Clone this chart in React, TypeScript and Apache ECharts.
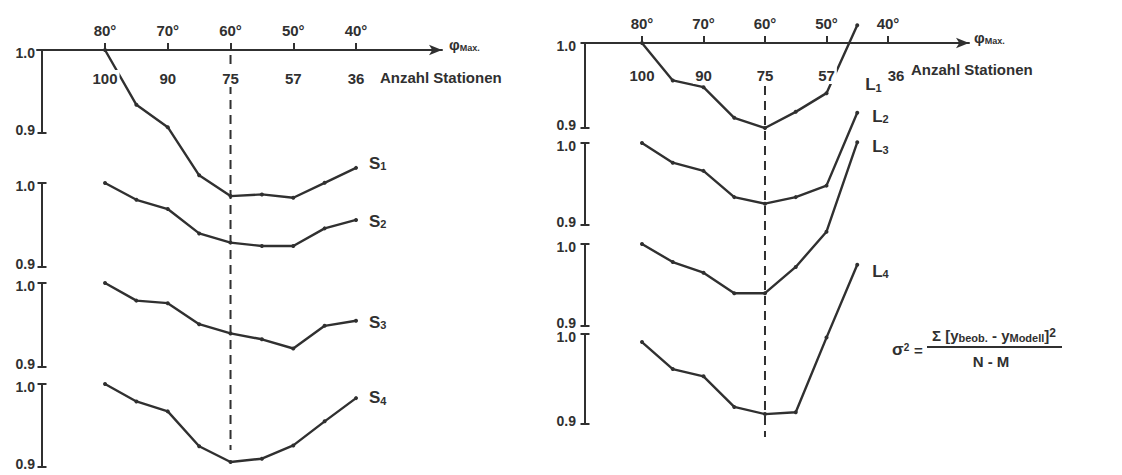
import React, { useEffect, useRef } from "react";
import * as echarts from "echarts";

// ---------- data ----------
const phiTicks = [80, 70, 60, 50, 40];
const stationCounts = ["100", "90", "75", "57", "36"];
const scaleTicks = [0.9, 1.0];
const refPhi = 60;

const sPhi = [80, 75, 70, 65, 60, 55, 50, 45, 40];
const s1 = [1.0, 0.934, 0.907, 0.849, 0.824, 0.826, 0.822, 0.84, 0.858];
const s2 = [1.0, 0.98, 0.969, 0.94, 0.929, 0.925, 0.925, 0.946, 0.956];
const s3 = [1.0, 0.979, 0.976, 0.951, 0.94, 0.933, 0.922, 0.949, 0.955];
const s4 = [1.0, 0.979, 0.967, 0.925, 0.906, 0.91, 0.926, 0.955, 0.983];
const sNames = ["S1", "S2", "S3", "S4"];

const lPhi = [80, 75, 70, 65, 60, 55, 50, 45];
const l1 = [1.0, 0.956, 0.948, 0.912, 0.9, 0.919, 0.941, 1.021];
const l2 = [1.0, 0.976, 0.966, 0.934, 0.926, 0.934, 0.948, 1.037];
const l3 = [1.0, 0.978, 0.965, 0.94, 0.94, 0.972, 1.015, 1.124];
const l4 = [0.991, 0.961, 0.953, 0.919, 0.911, 0.913, 0.996, 1.077];
const lNames = ["L1", "L2", "L3", "L4"];

// ---------- layout / style ----------
const INK = "#303030";
const FONT = "Liberation Sans";

const leftPanel = { left: 37, width: 405, min: 26.3, max: 90.84, yOffset: -5, yLabelMargin: 7, stationMargin: 20, lastStationShift: 0, dashTop: 55, dashHeight: 395 };
const rightPanel = { left: 583, width: 386, min: 26.83, max: 89.59, yOffset: -2, yLabelMargin: 9, stationMargin: 24, lastStationShift: 16, dashTop: 86, dashHeight: 351 };
const leftRows = [
  { top: 50, height: 83 },
  { top: 183, height: 84 },
  { top: 283, height: 84 },
  { top: 384, height: 83 },
];
const rightRows = [
  { top: 43, height: 85 },
  { top: 143, height: 82 },
  { top: 244, height: 82 },
  { top: 334, height: 90 },
];
const leftLabelLayout = [
  { distance: 11, offset: [0, -4] },
  { distance: 11, offset: [0, 2] },
  { distance: 11, offset: [0, 2] },
  { distance: 11, offset: [0, 0] },
];
const rightLabelLayout = [
  { distance: 13, offset: [-7, 60] },
  { distance: 13, offset: [0, 4] },
  { distance: 13, offset: [0, 5] },
  { distance: 13, offset: [0, 7] },
];

const textBase = { color: INK, fontFamily: FONT, fontWeight: "bold" as const, fontSize: 15 };
const subRich = {
  s: { color: INK, fontFamily: FONT, fontWeight: "bold", fontSize: 17, lineHeight: 16, verticalAlign: "bottom" },
  n: { color: INK, fontFamily: FONT, fontWeight: "bold", fontSize: 11, lineHeight: 6, verticalAlign: "bottom" },
};
const yLabelRich = {
  lo: { color: INK, fontFamily: FONT, fontWeight: "bold", fontSize: 14, lineHeight: 13, padding: [0, 0, 6, 0] },
  hi: { color: INK, fontFamily: FONT, fontWeight: "bold", fontSize: 14, lineHeight: 13, padding: [6, 0, 0, 0] },
};

function buildOption() {
  const grids: any[] = [];
  const xAxes: any[] = [];
  const yAxes: any[] = [];
  const series: any[] = [];

  const addPanel = (panel: any, rows: any[], phis: number[], values: number[][], names: string[], labelLayout: any[]) => {
    rows.forEach((row, r) => {
      const gi = grids.length;
      grids.push({ left: panel.left, width: panel.width, top: row.top, height: row.height, containLabel: false, outerBoundsMode: "none" });
      const xi = xAxes.length;
      xAxes.push({
        type: "value",
        gridIndex: gi,
        position: "top",
        inverse: true,
        min: panel.min,
        max: panel.max,
        show: r === 0,
        splitLine: { show: false },
        axisLine: { show: true, onZero: false, symbol: ["none", "arrow"], symbolSize: [8, 13], lineStyle: { color: INK, width: 2 } },
        axisTick: { show: true, customValues: phiTicks, length: 7, lineStyle: { color: INK, width: 2 } },
        axisLabel: { show: true, customValues: phiTicks, formatter: (v: number) => `${v}°`, margin: 12, ...textBase },
      });
      if (r === 0) {
        const shift = panel.lastStationShift;
        xAxes.push({
          type: "value",
          gridIndex: gi,
          position: "top",
          inverse: true,
          min: panel.min,
          max: panel.max,
          z: 5,
          splitLine: { show: false },
          axisLine: { show: false },
          axisTick: { show: false },
          axisLabel: {
            inside: true,
            customValues: phiTicks,
            formatter: (v: number) => {
              const i = phiTicks.indexOf(v);
              return i === phiTicks.length - 1 && shift ? `{r|${stationCounts[i]}}` : stationCounts[i];
            },
            rich: { r: { ...textBase, padding: [0, 0, 0, shift] } },
            margin: panel.stationMargin,
            backgroundColor: "#ffffff",
            padding: [1, 2],
            ...textBase,
          },
        });
      }
      const yi = yAxes.length;
      yAxes.push({
        type: "value",
        gridIndex: gi,
        position: "left",
        min: 0.9,
        max: 1.0,
        offset: panel.yOffset,
        splitLine: { show: false },
        axisLine: { show: true, onZero: false, symbol: ["rect", "rect"], symbolSize: [9, 2], lineStyle: { color: INK, width: 2 } },
        axisTick: { show: false },
        axisLabel: {
          customValues: scaleTicks,
          formatter: (v: number) => (v < 0.95 ? `{lo|${v.toFixed(1)}}` : `{hi|${v.toFixed(1)}}`),
          rich: yLabelRich,
          margin: panel.yLabelMargin,
          ...textBase,
          fontSize: 14,
        },
      });
      const vals = values[r];
      const name = names[r];
      const data: any[] = phis.map((p, i) => [p, vals[i]]);
      const last = data.length - 1;
      data[last] = {
        value: data[last],
        label: {
          show: true,
          position: "right",
          distance: labelLayout[r].distance,
          offset: labelLayout[r].offset,
          formatter: `{s|${name[0]}}{n|${name.slice(1)}}`,
          rich: subRich,
        },
      };
      series.push({
        type: "line",
        name,
        xAxisIndex: xi,
        yAxisIndex: yi,
        data,
        clip: false,
        symbol: "circle",
        symbolSize: 4,
        showSymbol: true,
        itemStyle: { color: INK },
        lineStyle: { color: INK, width: 2.4 },
        label: { show: false },
        z: 3,
      });
    });
    // dashed reference line at 60°
    const gi = grids.length;
    grids.push({ left: panel.left, width: panel.width, top: panel.dashTop, height: panel.dashHeight, containLabel: false, outerBoundsMode: "none" });
    const xi = xAxes.length;
    xAxes.push({ type: "value", gridIndex: gi, inverse: true, min: panel.min, max: panel.max, show: false });
    const yi = yAxes.length;
    yAxes.push({ type: "value", gridIndex: gi, min: 0, max: 1, show: false });
    series.push({
      type: "line",
      xAxisIndex: xi,
      yAxisIndex: yi,
      data: [
        [refPhi, 1],
        [refPhi, 0],
      ],
      symbol: "none",
      clip: false,
      lineStyle: { color: INK, width: 2, type: [9, 6] },
      z: 1,
    });
  };

  addPanel(leftPanel, leftRows, sPhi, [s1, s2, s3, s4], sNames, leftLabelLayout);
  addPanel(rightPanel, rightRows, lPhi, [l1, l2, l3, l4], lNames, rightLabelLayout);

  const phiRich = {
    p: { fill: INK, fontFamily: FONT, fontWeight: "bold", fontSize: 15, lineHeight: 14, verticalAlign: "bottom" },
    m: { fill: INK, fontFamily: FONT, fontWeight: "bold", fontSize: 9, lineHeight: 2, verticalAlign: "bottom" },
  };
  const tStyle = { fill: INK, fontFamily: FONT, fontWeight: "bold", fontSize: 15 };

  const graphic: any[] = [
    { type: "text", x: 380, y: 77, style: { text: "Anzahl Stationen", ...tStyle, verticalAlign: "middle" } },
    { type: "text", x: 911, y: 69, style: { text: "Anzahl Stationen", ...tStyle, verticalAlign: "middle" } },
    { type: "text", x: 449, y: 45, style: { text: "{p|φ}{m|Max.}", rich: phiRich, verticalAlign: "middle" } },
    { type: "text", x: 974, y: 38, style: { text: "{p|φ}{m|Max.}", rich: phiRich, verticalAlign: "middle" } },
    {
      type: "text",
      x: 892,
      y: 350,
      style: {
        text: "{a|σ}{b|2}",
        verticalAlign: "middle",
        rich: {
          a: { ...tStyle, fontSize: 17, lineHeight: 16, verticalAlign: "bottom" },
          b: { ...tStyle, fontSize: 10, lineHeight: 4, verticalAlign: "top" },
        },
      },
    },
    { type: "text", x: 914, y: 350, style: { text: "=", ...tStyle, verticalAlign: "middle" } },
    {
      type: "text",
      x: 994,
      y: 343,
      style: {
        text: "{t|Σ [y}{s|beob.}{t| - y}{s|Modell}{t|]}{p|2}",
        align: "center",
        verticalAlign: "bottom",
        rich: {
          t: { ...tStyle, fontSize: 15, lineHeight: 16, verticalAlign: "bottom" },
          s: { ...tStyle, fontSize: 11, lineHeight: 6, verticalAlign: "bottom" },
          p: { ...tStyle, fontSize: 12, lineHeight: 4, verticalAlign: "top" },
        },
      },
    },
    { type: "line", shape: { x1: 927, y1: 347, x2: 1062, y2: 347 }, style: { stroke: INK, lineWidth: 2 } },
    { type: "text", x: 991, y: 361, style: { text: "N - M", ...tStyle, align: "center", verticalAlign: "middle" } },
  ];

  return {
    animation: false,
    backgroundColor: "#ffffff",
    grid: grids,
    xAxis: xAxes,
    yAxis: yAxes,
    series,
    graphic,
  };
}

export default function App() {
  const ref = useRef<HTMLDivElement>(null);
  useEffect(() => {
    const chart = echarts.init(ref.current!, null, { renderer: "svg" });
    chart.setOption(buildOption() as any);
    return () => chart.dispose();
  }, []);
  return (
    <div
      ref={ref}
      style={{ position: "fixed", left: 0, top: 0, width: 1122, height: 475, background: "#ffffff" }}
    />
  );
}
